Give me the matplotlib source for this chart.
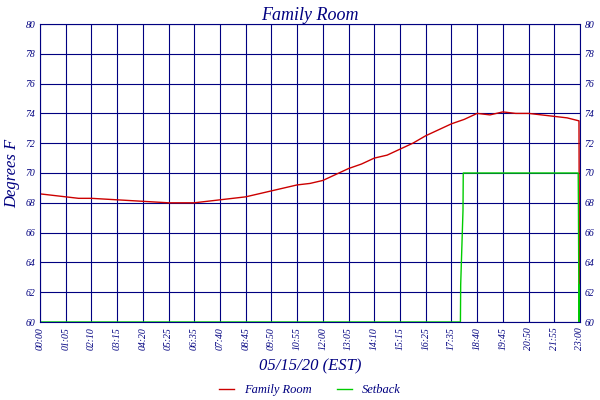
import numpy as np
import matplotlib.pyplot as plt

tick_labels = ["00:00", "01:05", "02:10", "03:15", "04:20", "05:25", "06:35", "07:40",
               "08:45", "09:50", "10:55", "12:00", "13:05", "14:10", "15:15", "16:25",
               "17:35", "18:40", "19:45", "20:50", "21:55", "23:00"]

# positions in tick-index units
room_x = [0, 0.5, 1, 1.5, 2, 3, 4, 5, 5.5, 6, 6.5, 7, 7.5, 8, 8.5, 9, 9.5, 10, 10.5, 11,
          11.5, 12, 12.5, 13, 13.5, 14, 14.5, 15, 15.5, 16, 16.5, 17, 17.5, 18, 18.5,
          19, 19.5, 20, 20.5, 20.96, 20.98]
room_y = [68.6, 68.5, 68.4, 68.3, 68.3, 68.2, 68.1, 68.0, 68.0, 68.0, 68.1, 68.2, 68.3,
          68.4, 68.6, 68.8, 69.0, 69.2, 69.3, 69.5, 69.9, 70.3, 70.6, 71.0, 71.2, 71.6,
          72.0, 72.5, 72.9, 73.3, 73.6, 74.0, 73.9, 74.1, 74.0, 74.0, 73.9, 73.8, 73.7,
          73.5, 62.5]
setback_x = [0, 16.35, 16.36, 16.45, 16.46, 20.93, 20.94, 20.96, 20.97]
setback_y = [60, 60, 62.5, 67.5, 70, 70, 67.5, 60, 62.5]

navy = "#000080"
font = {"family": "Liberation Serif", "style": "italic"}

fig = plt.figure(figsize=(6, 4), dpi=100)
ax = fig.add_axes([40/600, 1-322/400, 540/600, 298/400])
ax.plot(room_x, room_y, color="#cc0000", lw=1, label="Family Room")
ax.plot(setback_x, setback_y, color="#00cc00", lw=1, label="Setback")
ax.set_xlim(0, 21)
ax.set_ylim(60, 80)
ax.set_xticks(range(len(tick_labels)))
ax.set_xticklabels(tick_labels, rotation=90, color=navy, fontsize=7, **font)
ax.set_yticks(range(60, 81, 2))
ax.tick_params(axis="y", labelright=True, right=True, labelsize=7, colors=navy, length=0)
ax.tick_params(axis="x", length=0, colors=navy)
for lab in ax.get_yticklabels():
    lab.set_family("Liberation Serif"); lab.set_style("italic")
ax.grid(True, color=navy, lw=0.8)
for s in ax.spines.values():
    s.set_color(navy)
ax.set_title("Family Room", color=navy, fontsize=13, pad=3, **font)
ax.set_ylabel("Degrees F", color=navy, fontsize=12, labelpad=4, **font)
ax.set_xlabel("05/15/20 (EST)", color=navy, fontsize=12, labelpad=6, **font)
leg = ax.legend(loc="center", bbox_to_anchor=(0.5, -0.228), ncol=2, frameon=False,
                prop={"family": "Liberation Serif", "style": "italic", "size": 9},
                handlelength=1.2, columnspacing=2)
for t in leg.get_texts():
    t.set_color(navy)
fig.savefig("out.png", dpi=100)
